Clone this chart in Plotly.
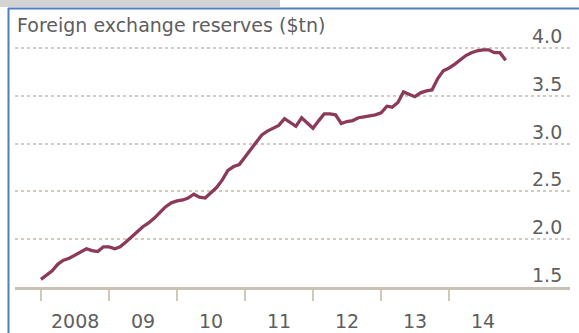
import pandas as pd
import plotly.graph_objects as go

# Monthly foreign exchange reserves, $tn
months = pd.date_range("2008-01-01", periods=83, freq="MS")
reserves = [
    1.58, 1.63, 1.67, 1.74, 1.78, 1.80, 1.83, 1.87, 1.90, 1.88, 1.87, 1.92,
    1.92, 1.90, 1.92, 1.97, 2.02, 2.08, 2.13, 2.17, 2.22, 2.28, 2.34, 2.38,
    2.40, 2.41, 2.43, 2.47, 2.44, 2.43, 2.49, 2.54, 2.62, 2.72, 2.76, 2.78,
    2.86, 2.94, 3.02, 3.09, 3.13, 3.16, 3.19, 3.26, 3.22, 3.18, 3.27, 3.21,
    3.16, 3.24, 3.31, 3.31, 3.30, 3.21, 3.23, 3.24, 3.27, 3.28, 3.29, 3.30,
    3.32, 3.39, 3.38, 3.43, 3.54, 3.51, 3.49, 3.53, 3.55, 3.56, 3.68, 3.76,
    3.79, 3.83, 3.87, 3.92, 3.95, 3.97, 3.98, 3.98, 3.95, 3.95, 3.87,
]
year_ticks = [f"{y}-01-01" for y in range(2008, 2015)]
year_labels = ["2008", "09", "10", "11", "12", "13", "14"]
y_ticks = [2.0, 2.5, 3.0, 3.5, 4.0]
y_labels = ["1.5", "2.0", "2.5", "3.0", "3.5", "4.0"]
y_label_vals = [1.5, 2.0, 2.5, 3.0, 3.5, 4.0]

W, H = 579, 333
L, R, T, B = 15, 9, 24, 46
plot_w = W - L - R
plot_h = H - T - B

# pixel -> paper helpers
def px_x(p):
    return (p - L) / plot_w

def px_y(q):
    return (H - B - q) / plot_h

# date range so that each year spans 68 px and Jan 2008 sits 26 px in
year = pd.Timedelta(days=365.25)
origin = pd.Timestamp("2008-01-01")
x_start = origin - year * (26 / 68)
x_end = origin + year * ((plot_w - 26) / 68)

TEXT = "#5e5e5e"
FONT = "DejaVu Sans"

fig = go.Figure()
fig.add_trace(go.Scatter(
    x=months, y=reserves, mode="lines",
    line=dict(color="#8b3a5b", width=3.3, shape="linear"),
    hoverinfo="skip", showlegend=False,
))

annotations = [dict(
    text="Foreign exchange reserves ($tn)", xref="paper", yref="paper",
    x=px_x(15), y=px_y(25), xanchor="left", yanchor="middle", showarrow=False,
    font=dict(family=FONT, size=19, color=TEXT),
)]
for v, t in zip(y_label_vals, y_labels):
    annotations.append(dict(
        text=t, xref="paper", yref="y", x=px_x(564), y=v,
        xanchor="right", yanchor="bottom", yshift=-1, showarrow=False,
        font=dict(family=FONT, size=19, color=TEXT),
    ))
for t, lab in zip(year_ticks, year_labels):
    mid = pd.Timestamp(t) + pd.Timedelta(days=182)
    annotations.append(dict(
        text=lab, xref="x", yref="paper", x=mid, y=px_y(333),
        xanchor="center", yanchor="bottom", borderpad=0, showarrow=False,
        font=dict(family=FONT, size=19, color=TEXT),
    ))

shapes = [
    # grey strip across the top left
    dict(type="rect", xref="paper", yref="paper", x0=px_x(0), x1=px_x(280),
         y0=px_y(0), y1=px_y(7), fillcolor="#d3d3d3", line=dict(width=0), layer="above"),
    # blue frame, top and left edges
    dict(type="line", xref="paper", yref="paper", x0=px_x(8), x1=px_x(580),
         y0=px_y(8.5), y1=px_y(8.5), line=dict(color="#4f7fbf", width=2)),
    dict(type="line", xref="paper", yref="paper", x0=px_x(8.5), x1=px_x(8.5),
         y0=px_y(8), y1=px_y(334), line=dict(color="#4f7fbf", width=2)),
]

fig.update_layout(
    width=W, height=H, margin=dict(l=L, r=R, t=T, b=B),
    paper_bgcolor="white", plot_bgcolor="white",
    annotations=annotations, shapes=shapes,
    xaxis=dict(
        type="date", range=[x_start, x_end], tickvals=year_ticks,
        ticktext=[""] * len(year_ticks), ticks="outside", ticklen=11,
        tickwidth=2, tickcolor="#cfc8bb", showline=True, linecolor="#c7c1b6",
        linewidth=3, showgrid=False, zeroline=False, fixedrange=True,
    ),
    yaxis=dict(
        range=[1.5, 4.25], tickvals=y_ticks, showticklabels=False,
        showgrid=True, gridcolor="#d3cbbd", gridwidth=2, griddash="dot",
        zeroline=False, showline=False, fixedrange=True,
    ),
)

fig.write_html("out.html", config={"displayModeBar": False})
